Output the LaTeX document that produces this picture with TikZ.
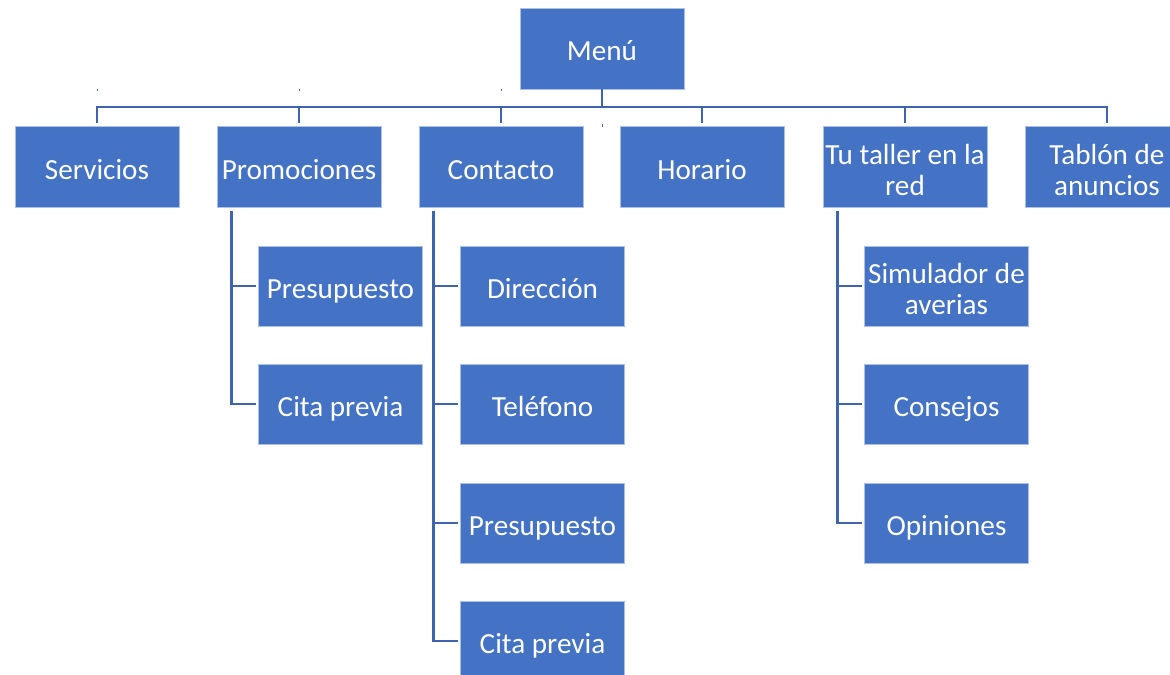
\documentclass[tikz,border=0pt]{standalone}
\usepackage{fontspec}
\setmainfont{Carlito}
\usetikzlibrary{calc}
\definecolor{boxblue}{HTML}{4472C4}
\definecolor{linkblue}{RGB}{61,100,172}

\begin{document}
\begin{tikzpicture}[x=0.02cm, y=-0.02cm,
		box/.style = {rectangle, fill=boxblue, draw=white!55!boxblue, line width=0.4pt,
			minimum width=3.28cm, minimum height=1.62cm, inner sep=0pt,
			text=white, align=center, font=\fontsize{16.6}{17.6}\selectfont,
			text height=16pt, text depth=2pt},
		twoline/.style = {text height=34.4pt, text depth=2pt},
		subbox/.style = {box, minimum height=1.6cm},
		link/.style = {draw=linkblue, line width=1.4pt}]
%		\draw (0,0) grid (1170,675);
		\useasboundingbox (0,0) rectangle (1170,675);
		
		\node[box] (menu) at (602,48.5) {Menú};
		\coordinate (bus) at (602,107);
		
		\node[box] (serv) at (97,167) {Servicios};
		\node[box] (promo) at (299,167) {Promociones};
		\node[box] (cont) at (501,167) {Contacto};
		\node[box] (hor) at (702,167) {Horario};
		\node[box, twoline] (taller) at (905,167) {Tu taller en la\\red};
		\node[box, twoline] (tablon) at (1107,167) {Tablón de\\anuncios};
		
		\node[subbox] (promoA) at (340.5,286) {Presupuesto};
		\node[subbox] (promoB) at (340.5,404) {Cita previa};
		
		\node[subbox] (contA) at (542.5,286) {Dirección};
		\node[subbox] (contB) at (542.5,404) {Teléfono};
		\node[subbox] (contC) at (542.5,523) {Presupuesto};
		\node[subbox] (contD) at (542.5,641) {Cita previa};
		
		\node[subbox, twoline] (tallerA) at (946.5,286) {Simulador de\\averias};
		\node[subbox] (tallerB) at (946.5,404) {Consejos};
		\node[subbox] (tallerC) at (946.5,523) {Opiniones};
		
		\coordinate (promoL) at ($(promo.south west)+(15,0)$);
		\coordinate (contL) at ($(cont.south west)+(15,0)$);
		\coordinate (tallerL) at ($(taller.south west)+(15,0)$);
		
		\draw[link] (menu.south) -- (bus);
		\draw[link, shorten <=2pt, shorten >=2pt] (serv.north) -- (serv.north |- bus) -- (tablon.north |- bus) -- (tablon.north);
		\foreach \n in {promo, cont, hor, taller}
			\draw[link, shorten <=2pt] (\n.north) -- (\n.north |- bus);
		
		\draw[link, shorten <=2pt, shorten >=1pt] (promoL) |- (promoB.west);
		\draw[link, shorten >=1pt] (promoL |- promoA.west) -- (promoA.west);
		
		\draw[link, shorten <=2pt, shorten >=1pt] (contL) |- (contD.west);
		\foreach \n in {contA, contB, contC}
			\draw[link, shorten >=1pt] (contL |- \n.west) -- (\n.west);
		
		\draw[link, shorten <=2pt, shorten >=1pt] (tallerL) |- (tallerC.west);
		\foreach \n in {tallerA, tallerB}
			\draw[link, shorten >=1pt] (tallerL |- \n.west) -- (\n.west);
		
		% small marks
		\foreach \x in {97, 299, 501}
			\draw[linkblue, line width=0.4pt] (\x,89) -- (\x,91);
		\draw[linkblue, line width=0.4pt] (602,124) -- (602,127);
	\end{tikzpicture}
\end{document}
